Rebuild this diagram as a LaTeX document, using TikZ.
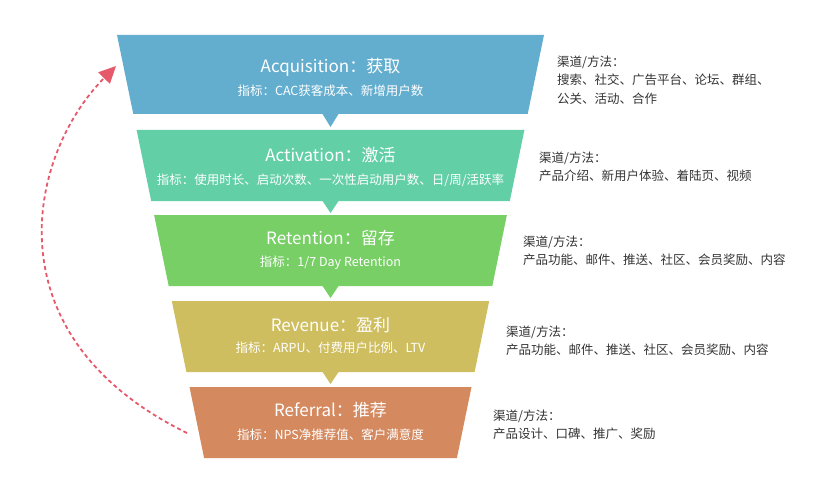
\documentclass[tikz,border=0pt]{standalone}
\usepackage{fontspec}
\setmainfont{Noto Sans CJK SC}
\usetikzlibrary{arrows.meta}
\usepackage{xcolor}
\definecolor{acqblue}{HTML}{63AECF}
\definecolor{actteal}{HTML}{62CFA7}
\definecolor{retgreen}{HTML}{77CF66}
\definecolor{revolive}{HTML}{CFBE5F}
\definecolor{reforange}{HTML}{D4895F}
\definecolor{looppink}{HTML}{E6596B}
\definecolor{chantext}{HTML}{333333}

\begin{document}
\begin{tikzpicture}[x=1pt,y=-1pt,
	stagetitle/.style={text=white,font=\fontsize{17}{20}\selectfont},
	stagemetric/.style={text=white,font=\fontsize{12.5}{15}\selectfont},
	channeltext/.style={anchor=north west,align=left,inner sep=0pt,text=chantext,font=\fontsize{12.5}{18.5}\selectfont},
	backarrow/.style={draw=looppink,line width=1.8pt,dash pattern=on 4pt off 3pt,-{Triangle[length=17pt,width=16pt]}}]
		\useasboundingbox (0,0) rectangle (814,500);
		% funnel bands
		\fill[acqblue] (117,35) -- (544,35) -- (527.7,114) -- (338.5,114) -- (330.5,127) -- (322.5,114) -- (133.3,114) -- cycle;
		\fill[actteal] (136.6,130) -- (524.4,130) -- (509.8,201) -- (338.5,201) -- (330.5,213) -- (322.5,201) -- (151.2,201) -- cycle;
		\fill[retgreen] (154.1,215) -- (506.9,215) -- (492.3,286) -- (338.5,286) -- (330.5,298) -- (322.5,286) -- (168.7,286) -- cycle;
		\fill[revolive] (171.8,301) -- (489.2,301) -- (474.6,372) -- (338.5,372) -- (330.5,384) -- (322.5,372) -- (186.4,372) -- cycle;
		\fill[reforange] (189.5,387) -- (471.5,387) -- (456.9,458) -- (204.1,458) -- cycle;
		\node (acq)[stagetitle] at (330.5,67) {Acquisition：获取};
		\node (acqm)[stagemetric] at (330.5,91) {指标：CAC获客成本、新增用户数};
		\node (act)[stagetitle] at (330.5,155) {Activation：激活};
		\node (actm)[stagemetric] at (330.5,180) {指标：使用时长、启动次数、一次性启动用户数、日/周/活跃率};
		\node (ret)[stagetitle] at (330.5,238) {Retention：留存};
		\node (retm)[stagemetric] at (330.5,263) {指标：1/7 Day Retention};
		\node (rev)[stagetitle] at (330.5,325) {Revenue：盈利};
		\node (revm)[stagemetric] at (330.5,348) {指标：ARPU、付费用户比例、LTV};
		\node (ref)[stagetitle] at (330.5,410) {Referral：推荐};
		\node (refm)[stagemetric] at (330.5,435) {指标：NPS净推荐值、客户满意度};
		% channels
		\node (acqch)[channeltext] at (557,55.5) {渠道/方法：\\搜索、社交、广告平台、论坛、群组、\\公关、活动、合作};
		\node (actch)[channeltext] at (539,151.5) {渠道/方法：\\产品介绍、新用户体验、着陆页、视频};
		\node (retch)[channeltext] at (523,235.5) {渠道/方法：\\产品功能、邮件、推送、社区、会员奖励、内容};
		\node (revch)[channeltext] at (506,325.5) {渠道/方法：\\产品功能、邮件、推送、社区、会员奖励、内容};
		\node (refch)[channeltext] at (493,409.5) {渠道/方法：\\产品设计、口碑、推广、奖励};
		% loop back
		\coordinate (refstart) at (187,433);
		\coordinate (acqend) at (116,66);
		\draw[backarrow] (refstart) .. controls (-11,336) and (27,156) .. (acqend);
\end{tikzpicture}
\end{document}
